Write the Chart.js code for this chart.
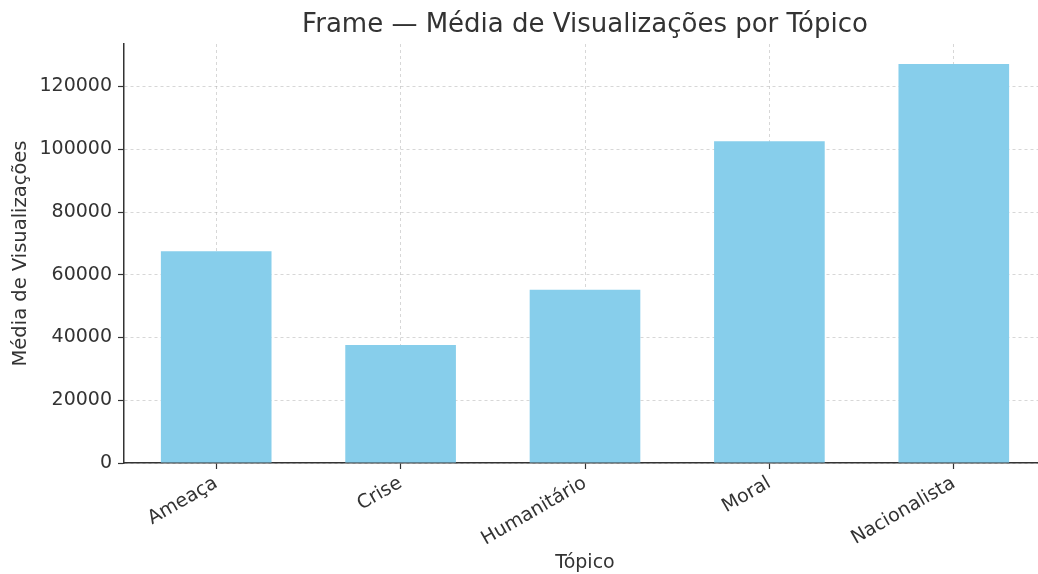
<!DOCTYPE html>
<html>
<head>
<meta charset="utf-8">
<script src="https://cdn.jsdelivr.net/npm/chart.js@4"></script>
<style>
  html, body { margin: 0; padding: 0; background: #fff; overflow: hidden; }
</style>
</head>
<body>
<canvas id="grafico" width="1046" height="574"></canvas>
<script>
// dados
const topicos = ['Ameaça', 'Crise', 'Humanitário', 'Moral', 'Nacionalista'];
const mediaVisualizacoes = [67500, 37600, 55200, 102600, 127200];
const yTicks = [0, 20000, 40000, 60000, 80000, 100000, 120000];

const corTexto = '#333333';
const corGrade = 'rgba(170, 170, 170, 0.6)';
const fonte = "'DejaVu Sans', sans-serif";

new Chart(document.getElementById('grafico').getContext('2d'), {
  type: 'bar',
  data: {
    labels: topicos,
    datasets: [{
      data: mediaVisualizacoes,
      backgroundColor: '#87CEEB',
      borderWidth: 0,
      barPercentage: 0.6,
      categoryPercentage: 1.0
    }]
  },
  options: {
    responsive: false,
    animation: false,
    devicePixelRatio: 1,
    layout: { padding: 0 },
    plugins: {
      legend: { display: false },
      tooltip: { enabled: false },
      title: {
        display: true,
        text: 'Frame — Média de Visualizações por Tópico',
        color: corTexto,
        fullSize: false,
        font: { family: fonte, size: 26, weight: 'normal' },
        padding: { top: 10, bottom: 2.8 }
      }
    },
    scales: {
      x: {
        z: 1,
        offset: true,
        border: { display: true, color: corTexto, width: 1.5, dash: [3, 3] },
        grid: {
          offset: false,
          color: corGrade,
          lineWidth: 0.8,
          drawTicks: true,
          tickLength: 6,
          tickColor: corTexto,
          tickWidth: 1.2,
          tickBorderDash: []
        },
        ticks: {
          color: corTexto,
          font: { family: fonte, size: 19 },
          minRotation: 30,
          maxRotation: 30,
          padding: 3
        },
        title: {
          display: true,
          text: 'Tópico',
          color: corTexto,
          font: { family: fonte, size: 19 },
          padding: { top: 4, bottom: 0 }
        },
        afterFit: scale => { scale.height = 111; }
      },
      y: {
        z: 1,
        min: 0,
        max: 133560,
        border: { display: true, color: corTexto, width: 1.5, dash: [3, 3] },
        grid: {
          color: corGrade,
          lineWidth: 0.8,
          drawTicks: true,
          tickLength: 6,
          tickColor: corTexto,
          tickWidth: 1.2,
          tickBorderDash: []
        },
        ticks: {
          color: corTexto,
          font: { family: fonte, size: 19 },
          padding: 6,
          callback: v => String(v)
        },
        afterBuildTicks: scale => {
          scale.ticks = yTicks.map(v => ({ value: v }));
        },
        title: {
          display: true,
          text: 'Média de Visualizações',
          color: corTexto,
          font: { family: fonte, size: 19.5 },
          padding: { top: 9, bottom: 4 }
        },
        afterFit: scale => { scale.width = 124; }
      }
    }
  }
});
</script>
</body>
</html>
